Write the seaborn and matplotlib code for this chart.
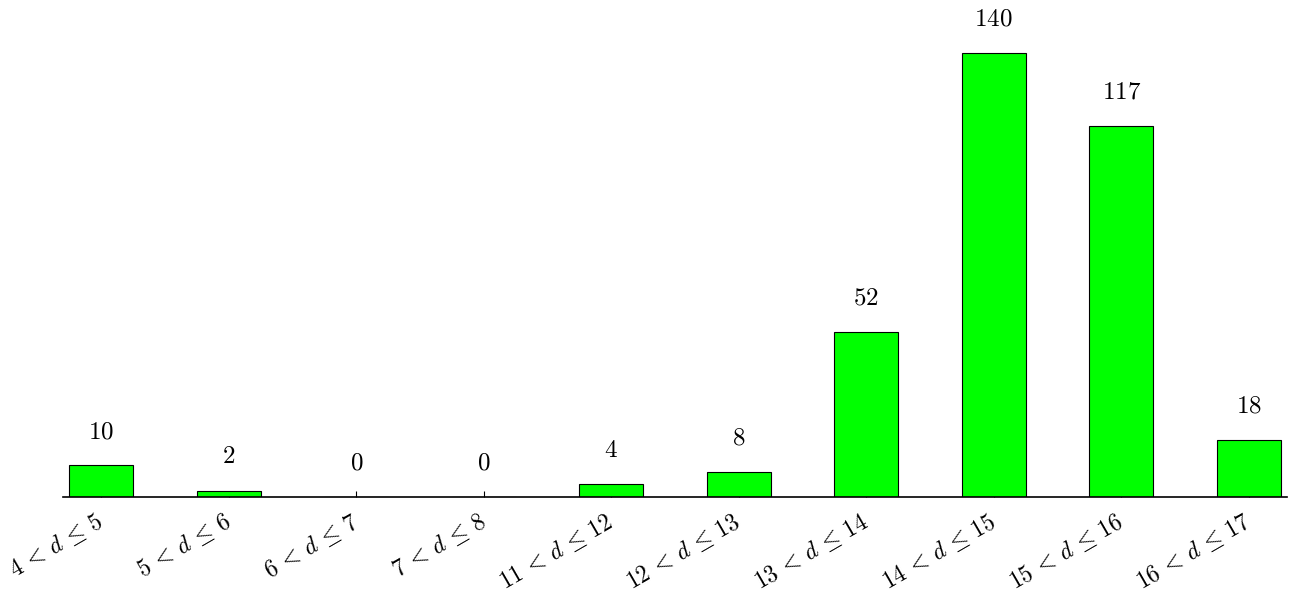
import numpy as np
import pandas as pd
import matplotlib
matplotlib.use('Agg')
import matplotlib.pyplot as plt
import matplotlib.transforms as mtransforms
import seaborn as sns

lower = [4, 5, 6, 7, 11, 12, 13, 14, 15, 16]
upper = [5, 6, 7, 8, 12, 13, 14, 15, 16, 17]
counts = [10, 2, 0, 0, 4, 8, 52, 140, 117, 18]

labels = [rf'${a}\,<\,d\,\leq\,{b}$' for a, b in zip(lower, upper)]
df = pd.DataFrame({'range': labels, 'count': counts})

sns.set_style('white')
plt.rcParams['mathtext.fontset'] = 'cm'
plt.rcParams['font.family'] = ['DejaVu Serif']
plt.rcParams['text.color'] = 'black'
plt.rcParams['xtick.color'] = 'black'

fig = plt.figure(figsize=(12.9, 5.92), dpi=100)
ax = fig.add_axes([63 / 1290, 95 / 592, 1224 / 1290, 475.6 / 592])

sns.barplot(data=df, x='range', y='count', color='#00ff00', saturation=1,
            edgecolor='black', linewidth=0.8, width=0.5, ax=ax)

for c in ax.containers:
    ax.bar_label(c, fmt='$%d$', padding=16, fontsize=18, color='black')

ax.set_xlim(-0.3, 9.3)
ax.set_ylim(0, 150)
ax.set_xlabel('')
ax.set_ylabel('')
ax.set_yticks([])
for s in ['top', 'left', 'right']:
    ax.spines[s].set_visible(False)
ax.spines['bottom'].set_linewidth(1.2)
ax.spines['bottom'].set_color('black')
ax.tick_params(axis='x', direction='in', length=4, width=0.8, bottom=True,
               pad=9, labelsize=17, labelcolor='black')

# nudge the rotated labels so their right end sits under the tick
shift = mtransforms.ScaledTranslation(-6 / 100, 0, fig.dpi_scale_trans)
for lab in ax.get_xticklabels():
    lab.set_rotation(30)
    lab.set_ha('right')
    lab.set_rotation_mode('anchor')
    lab.set_transform(lab.get_transform() + shift)

plt.savefig('out.png', dpi=100)
